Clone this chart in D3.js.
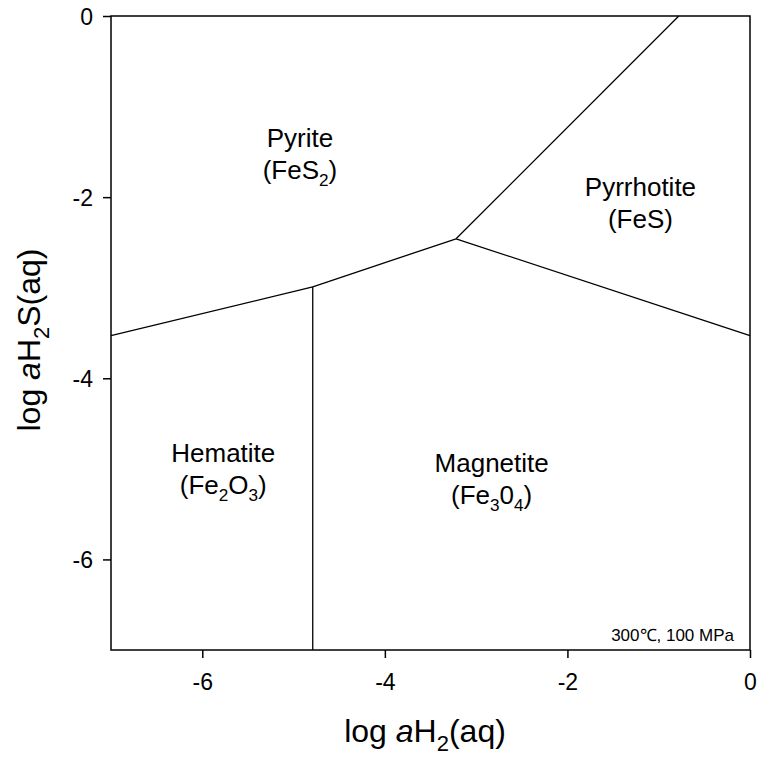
<!DOCTYPE html>
<html><head><meta charset="utf-8">
<script src="https://cdn.jsdelivr.net/npm/d3@7"></script>
<style>body{margin:0;background:#fff}text{font-family:"Liberation Sans",Arial,sans-serif;fill:#000}</style>
</head><body><svg id="c" width="760" height="759"></svg>
<script>
const xTicks = [-6, -4, -2, 0];
const yTicks = [0, -2, -4, -6];
const xDomain = [-7, 0];
const yDomain = [-7, 0];
// boundary lines [x, y] in log aH2 / log aH2S
const pyHemBoundary = [[-7, -3.53], [-4.79, -2.99]];
const hemMagBoundary = [[-4.79, -2.99], [-4.79, -7]];
const pyMagBoundary = [[-4.79, -2.99], [-3.22, -2.46]];
const pyPoBoundary = [[-3.22, -2.46], [-0.78, 0]];
const poMagBoundary = [[-3.22, -2.46], [0, -3.53]];
const fieldLabels = [
  {name: "Pyrite", formula: [["(FeS",0],["2",1],[")",0]], x: -4.93, y: -1.45},
  {name: "Pyrrhotite", formula: [["(FeS)",0]], x: -1.2, y: -1.99},
  {name: "Hematite", formula: [["(Fe",0],["2",1],["O",0],["3",1],[")",0]], x: -5.77, y: -4.92},
  {name: "Magnetite", formula: [["(Fe",0],["3",1],["0",0],["4",1],[")",0]], x: -2.83, y: -5.03}
];

const svg = d3.select("#c");
const L = 111, R = 750, T = 16, B = 650;
const x = d3.scaleLinear().domain(xDomain).range([L, R]);
const y = d3.scaleLinear().domain(yDomain).range([B, T]);
const fmt = d => String(d);

const xAxis = svg.append("g").attr("transform", `translate(0,${B})`)
  .call(d3.axisBottom(x).tickValues(xTicks).tickSize(8).tickPadding(10).tickFormat(fmt));
const yAxis = svg.append("g").attr("transform", `translate(${L},0)`)
  .call(d3.axisLeft(y).tickValues(yTicks).tickSize(8).tickPadding(10).tickFormat(fmt));
[xAxis, yAxis].forEach(a => {
  a.select(".domain").remove();
  a.selectAll("line").attr("stroke", "#000").attr("stroke-width", 1.5);
  a.selectAll("text").style("font-size", "23px").attr("font-family", "Liberation Sans, Arial, sans-serif");
});
xAxis.selectAll("text").attr("dy", "0.95em");
yAxis.selectAll("text").attr("dy", "0.35em");

svg.append("rect").attr("x", L).attr("y", T).attr("width", R - L).attr("height", B - T)
  .attr("fill", "none").attr("stroke", "#000").attr("stroke-width", 1.5);

const line = d3.line().x(d => x(d[0])).y(d => y(d[1]));
[pyHemBoundary, hemMagBoundary, pyMagBoundary, pyPoBoundary, poMagBoundary].forEach(b => {
  svg.append("path").attr("d", line(b)).attr("fill", "none").attr("stroke", "#000").attr("stroke-width", 1.3);
});

fieldLabels.forEach(f => {
  const fs = 26;
  svg.append("text").attr("x", x(f.x)).attr("y", y(f.y)).attr("text-anchor", "middle")
    .style("font-size", fs + "px").text(f.name);
  const t = svg.append("text").attr("x", x(f.x)).attr("y", y(f.y) + 32).attr("text-anchor", "middle")
    .style("font-size", fs + "px");
  let dyAcc = 0;
  f.formula.forEach(p => {
    const s = t.append("tspan").text(p[0]);
    if (p[1]) { s.style("font-size", (fs * 0.66) + "px").attr("dy", 7 - dyAcc); dyAcc = 7; }
    else { s.attr("dy", -dyAcc); dyAcc = 0; }
  });
});

svg.append("text").attr("x", 734).attr("y", 641).attr("text-anchor", "end")
  .style("font-size", "17px").text("300℃, 100 MPa");

// x title
const xt = svg.append("text").attr("x", 425).attr("y", 742).attr("text-anchor", "middle").style("font-size", "32px");
xt.append("tspan").text("log ");
xt.append("tspan").style("font-style", "italic").text("a");
xt.append("tspan").text("H");
xt.append("tspan").style("font-size", "22px").attr("dy", 9).text("2");
xt.append("tspan").attr("dy", -9).text("(aq)");

// y title
const yt = svg.append("text").attr("transform", "translate(40,340) rotate(-90)").attr("text-anchor", "middle").style("font-size", "32px");
yt.append("tspan").text("log ");
yt.append("tspan").style("font-style", "italic").text("a");
yt.append("tspan").text("H");
yt.append("tspan").style("font-size", "22px").attr("dy", 9).text("2");
yt.append("tspan").attr("dy", -9).text("S(aq)");
</script></body></html>
